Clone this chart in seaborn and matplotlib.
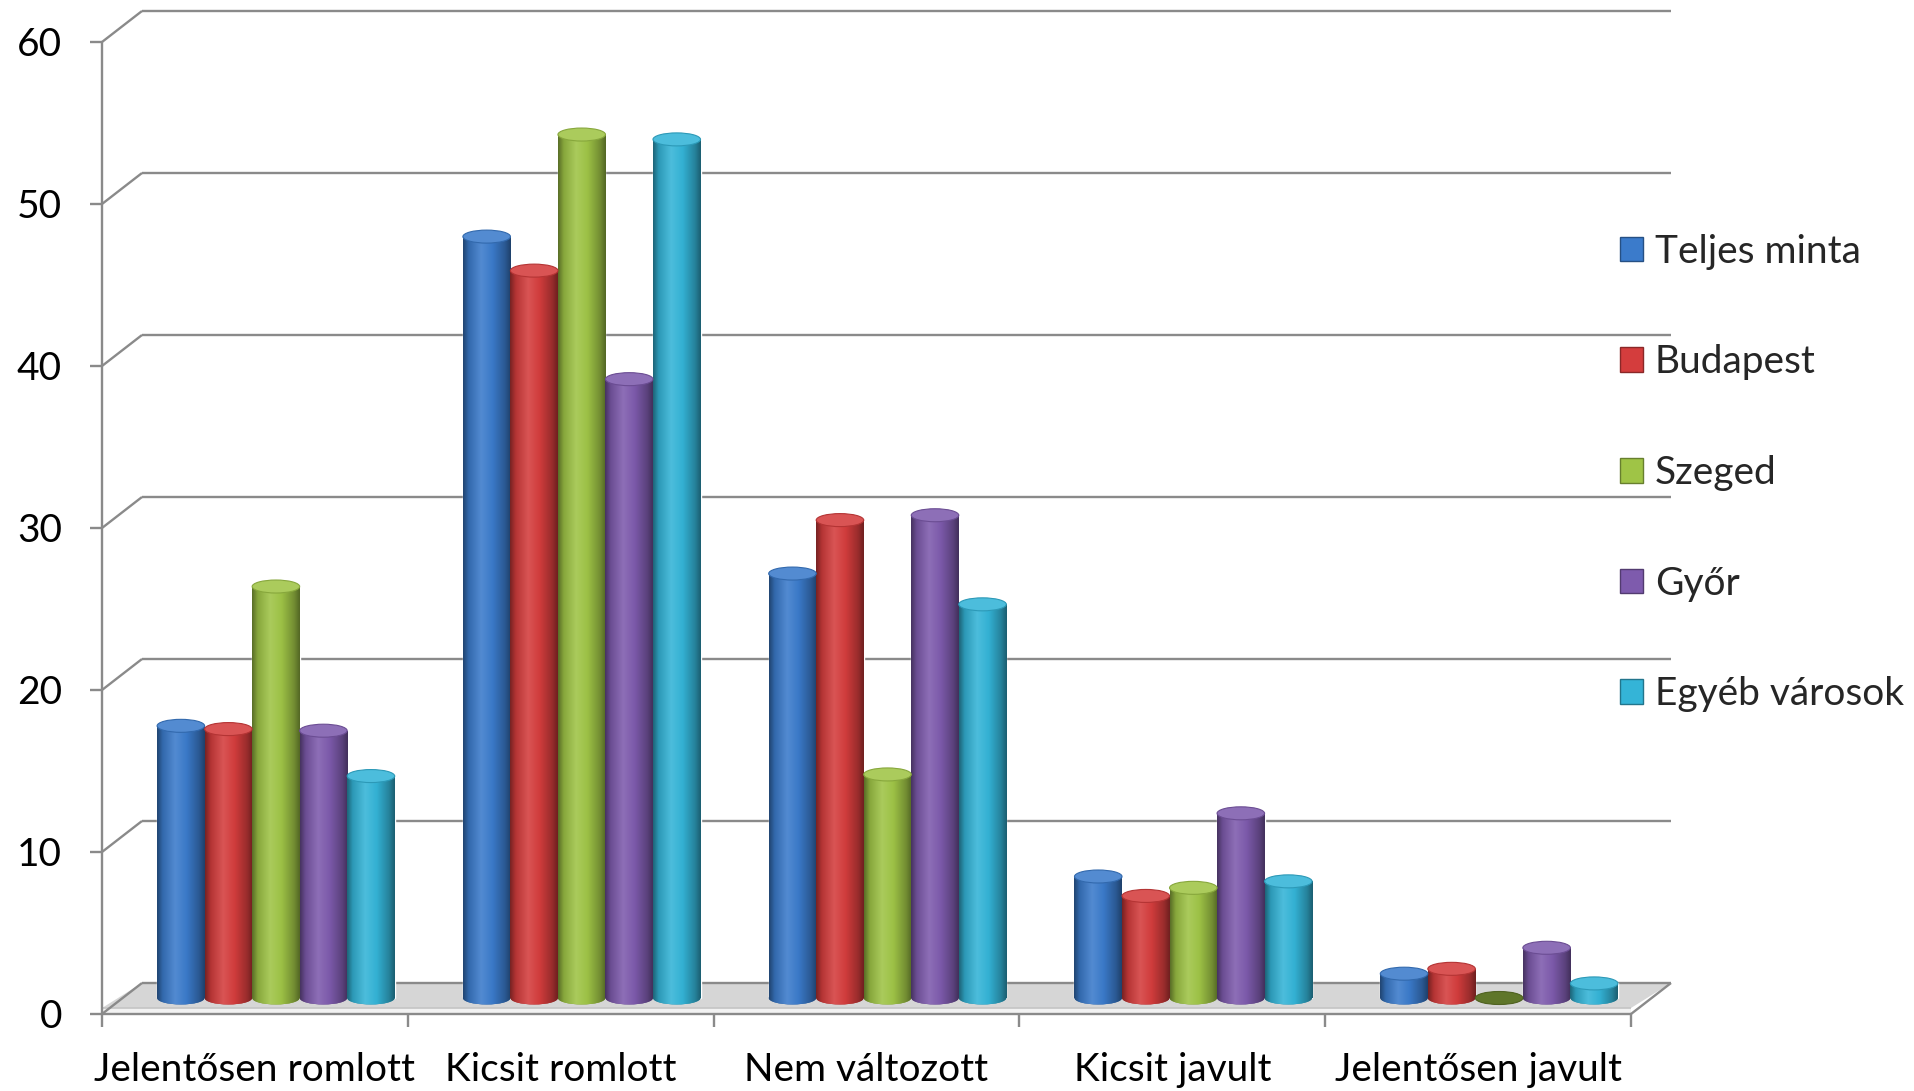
import matplotlib
matplotlib.use('Agg')
import matplotlib.pyplot as plt
import matplotlib.transforms as mtransforms
from matplotlib.patches import Ellipse, Polygon, Patch
from matplotlib.colors import LinearSegmentedColormap, to_rgb
import seaborn as sns
import numpy as np
import pandas as pd

# data
categories = ['Jelentősen romlott', 'Kicsit romlott', 'Nem változott', 'Kicsit javult', 'Jelentősen javult']
series_names = ['Teljes minta', 'Budapest', 'Szeged', 'Győr', 'Egyéb városok']
teljes_minta = [16.8, 47.0, 26.2, 7.5, 1.5]
budapest = [16.6, 44.9, 29.5, 6.3, 1.8]
szeged = [25.4, 53.3, 13.8, 6.8, 0.0]
gyor = [16.5, 38.2, 29.8, 11.4, 3.1]
egyeb_varosok = [13.7, 53.0, 24.3, 7.2, 0.9]
y_ticks = [0, 10, 20, 30, 40, 50, 60]

colors = ['#3b7bcb', '#d43d3d', '#9fc446', '#7e5bad', '#34b4d7']
grid_col = '#8a8a8a'

df = pd.DataFrame({
    'kategoria': categories * len(series_names),
    'sorozat': np.repeat(series_names, len(categories)),
    'ertek': teljes_minta + budapest + szeged + gyor + egyeb_varosok,
})

sns.set_style('white')
plt.rcParams['font.family'] = ['Lato', 'DejaVu Sans']
FS = 28

W, H = 1915, 1091
fig = plt.figure(figsize=(W / 100, H / 100), dpi=100)
fig.patch.set_facecolor('white')

# pixel geometry of the plane where the cylinders stand (mid depth)
x_left, x_right = 123, 1652
y_zero, px_unit = 998, 16.2
y_min, y_max = -1, 60
ax = fig.add_axes([x_left / W, (H - (y_zero - y_min * px_unit)) / H,
                   (x_right - x_left) / W, (y_max - y_min) * px_unit / H])

sns.barplot(data=df, x='kategoria', y='ertek', hue='sorozat', order=categories,
            hue_order=series_names, palette=colors, saturation=1, width=0.777,
            errorbar=None, legend=False, ax=ax)
ax.set_xlim(-0.5, 4.5)
ax.set_ylim(y_min, y_max)
ax.axis('off')


def shade(c, f):
    c = np.array(to_rgb(c))
    if f <= 1:
        return tuple(c * f)
    return tuple(c + (1 - c) * (f - 1))


def cyl_cmap(c):
    return LinearSegmentedColormap.from_list('cyl', [
        (0.0, shade(c, 0.55)), (0.12, shade(c, 0.85)), (0.38, shade(c, 1.12)),
        (0.62, shade(c, 0.98)), (0.88, shade(c, 0.72)), (1.0, shade(c, 0.52))])


grad = np.linspace(0, 1, 256)[None, :]
eh = 13 / px_unit  # ellipse height in data units

# cylinder look for every bar
for cont, col in zip(ax.containers, colors):
    cm = cyl_cmap(col)
    for bar in cont:
        x0, w, h = bar.get_x(), bar.get_width(), bar.get_height()
        xc = x0 + w / 2
        bot = Ellipse((xc, 0), w, eh, facecolor=shade(col, 0.8), edgecolor='none', zorder=1.8)
        ax.add_patch(bot)
        im = ax.imshow(grad, cmap=cm, extent=(x0, x0 + w, -eh / 2, eh / 2), aspect='auto',
                       origin='lower', zorder=1.9, interpolation='bicubic')
        im.set_clip_path(bot)
        if h > 0:
            im = ax.imshow(grad, cmap=cm, extent=(x0, x0 + w, 0, h), aspect='auto',
                           origin='lower', zorder=2, interpolation='bicubic')
            im.set_clip_path(bar)
            top = Ellipse((xc, h), w, eh, facecolor=shade(col, 1.12),
                          edgecolor=shade(col, 0.85), lw=0.8, zorder=3)
        else:
            top = Ellipse((xc, h), w, eh, facecolor=shade(col, 0.6),
                          edgecolor=shade(col, 0.5), lw=0.8, zorder=3)
        ax.add_patch(top)

ax.set_xlim(-0.5, 4.5)
ax.set_ylim(y_min, y_max)

# 3D frame: front and back planes are offsets of the mid plane in pixels
FRONT = (-21, -16)
BACK = (19, 15)
ident = mtransforms.IdentityTransform()


def px(x, y, off):
    X, Y = ax.transData.transform((x, y))
    return X + off[0], Y + off[1]


def seg(p, q, **kw):
    kw.setdefault('color', grid_col)
    kw.setdefault('lw', 1.7)
    ax.plot([p[0], q[0]], [p[1], q[1]], transform=ident, clip_on=False,
            solid_capstyle='butt', **kw)


# floor slab
f_top = (FRONT[0], FRONT[1] + 6)
floor = Polygon([px(-0.5, 0, f_top), px(4.5, 0, f_top), px(4.5, 0, BACK), px(-0.5, 0, BACK)],
                closed=True, transform=ident, facecolor='#d6d6d6', edgecolor='none',
                zorder=0.4, clip_on=False)
ax.add_patch(floor)
front_face = Polygon([px(-0.5, 0, FRONT), px(4.5, 0, FRONT), px(4.5, 0, f_top), px(-0.5, 0, f_top)],
                     closed=True, transform=ident, facecolor='#f2f2f2', edgecolor='none',
                     zorder=0.4, clip_on=False)
ax.add_patch(front_face)
seg(px(-0.5, 0, f_top), px(4.5, 0, f_top), color='#c4c4c4', lw=1.2, zorder=0.5)

# back wall gridlines and diagonals to the front axis
for v in y_ticks:
    seg(px(-0.5, v, BACK), px(4.5, v, BACK), zorder=0.5)
    seg(px(-0.5, v, FRONT), px(-0.5, v, BACK), zorder=0.5)
    a = px(-0.5, v, FRONT)
    seg((a[0] - 12, a[1]), a, zorder=0.5)
    ax.text(a[0] - 40, a[1], str(v), transform=ident, ha='right', va='center_baseline',
            fontsize=FS, color='black')

seg(px(4.5, 0, FRONT), px(4.5, 0, BACK), zorder=0.5)
seg(px(-0.5, 0, FRONT), px(-0.5, 60, FRONT), zorder=0.5)
seg(px(-0.5, 0, FRONT), px(4.5, 0, FRONT), zorder=0.5)
for i in range(len(categories) + 1):
    a = px(-0.5 + i, 0, FRONT)
    seg(a, (a[0], a[1] - 13), zorder=0.5)

for i, cat in enumerate(categories):
    a = px(i, 0, FRONT)
    ax.text(a[0], a[1] - 56, cat, transform=ident, ha='center', va='center',
            fontsize=FS, color='black')

handles = [Patch(facecolor=c, edgecolor=shade(c, 0.65), lw=1) for c in colors]
fig.legend(handles, series_names, loc='center left', bbox_to_anchor=(1620 / W, (H - 473) / H),
           frameon=False, fontsize=FS, handlelength=0.6, handleheight=0.6,
           handletextpad=0.3, labelspacing=1.92, borderpad=0, borderaxespad=0)

fig.savefig('out.png', dpi=100, facecolor='white')
